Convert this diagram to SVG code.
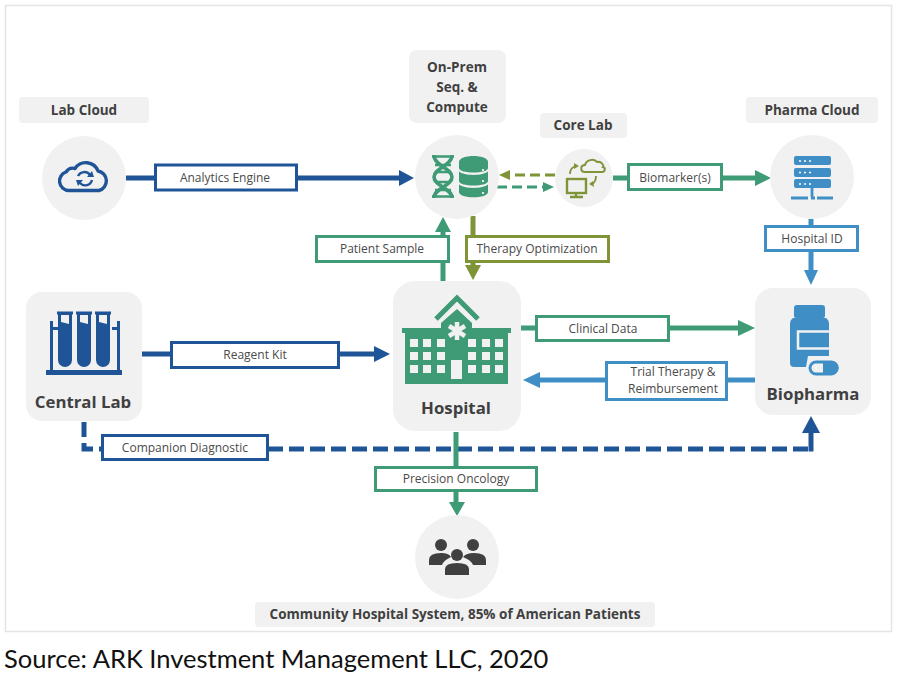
<svg xmlns="http://www.w3.org/2000/svg" width="900" height="677" viewBox="0 0 900 677">
<style>
.t{font-family:"Open Sans","Liberation Sans",sans-serif}
.h{font-weight:700;fill:#404040;text-anchor:middle;font-size:13.5px}
.big{font-size:16.8px}
.l{font-size:12px;fill:#4a4a4a;text-anchor:middle}
.pill,.disc,.card{fill:#f1f1f1}
.box{fill:#fff;stroke-width:3}
.navy{fill:#1f5597}.green{fill:#3f9a76}.olive{fill:#7f9437}.blue{fill:#3f8fc6}
.sn{stroke:#1f5597}.sg{stroke:#3f9a76}.so{stroke:#7f9437}.sb{stroke:#3f8fc6}
.w{stroke-width:5;fill:none}
.d{stroke-width:3;fill:none;stroke-dasharray:10 5}
</style>
<rect width="900" height="677" fill="#fff"/>
<rect x="5.5" y="5.5" width="886" height="626" fill="#fff" stroke="#e4e4e4" stroke-width="1.5"/>

<g id="connectors">
<path class="w sn" d="M126 178H400"/><path class="navy" d="M399 170L414 178L399 186Z"/>
<path class="w sn" d="M142 354H376"/><path class="navy" d="M374 346L390 354L374 362Z"/>
<path class="w sn" d="M84 422V449H104M268 449H808" stroke-dasharray="15 6"/>
<path class="w sn" d="M811 451.500V432"/><path class="navy" d="M802 433L811 416L820 433Z"/>
<path class="w sg" d="M443 281V230"/><path class="green" d="M435 232L443 217L451 232Z"/>
<path class="w so" d="M473 216V266"/><path class="olive" d="M465 265L473 280L481 265Z"/>
<path class="d so" d="M555 175H510"/><path class="olive" d="M510 170L499 175L510 180Z"/>
<path class="d sg" d="M497 187H545"/><path class="green" d="M543 182L554 187L543 192Z"/>
<path class="w sg" d="M613 178H756"/><path class="green" d="M755 170L771 178L755 186Z"/>
<path class="w sb" d="M811 219V272"/><path class="blue" d="M804 270L811 285L818 270Z"/>
<path class="w sg" d="M521 328H740"/><path class="green" d="M738 320L755 328L738 336Z"/>
<path class="w sb" d="M755 380H538"/><path class="blue" d="M540 372L523 380L540 388Z"/>
<path class="w sg" d="M456 432V503"/><path class="green" d="M449 502L457 516L465 502Z"/>
</g>

<g id="lab-cloud">
<rect class="pill" x="19" y="97" width="130" height="26" rx="4"/>
<text class="t h" x="84" y="115">Lab Cloud</text>
<circle class="disc" cx="84" cy="178" r="42"/>
<path d="M69 190.500A9.500 9.500 0 0 1 66 172A8 8 0 0 1 75 168.500A13 13 0 0 1 98 171A10 10 0 0 1 99 190.500Z" fill="none" stroke="#1f5597" stroke-width="3.400" stroke-linejoin="round"/>
<path d="M78 176A7 7 0 0 1 90 175M92 180A7 7 0 0 1 80 183" fill="none" stroke="#1f5597" stroke-width="2.400"/>
<path class="navy" d="M87 177L94 177L92 171ZM83 180L76 180L78 186Z"/>
</g>

<g id="on-prem">
<rect class="pill" x="409" y="50" width="97" height="73" rx="8"/>
<text class="t h" x="457" y="72">On-Prem</text>
<text class="t h" x="457" y="92">Seq. &amp;</text>
<text class="t h" x="457" y="112">Compute</text>
<circle class="disc" cx="457" cy="177" r="42"/>
<path d="M434 155C434 166 452 168 452 177S434 188 434 198M452 155C452 166 434 168 434 177S452 188 452 198" fill="none" stroke="#3f9a76" stroke-width="3.600"/>
<path d="M432 156.500H454M435 165H451M437 172H449M437 182H449M435 190H451M432 196.500H454" stroke="#3f9a76" stroke-width="2.400"/>
<path class="green" d="M459 162C459 154 488 154 488 162V168C488 174 459 174 459 168Z"/>
<path class="green" d="M459 171.500C464 176 483 176 488 171.500V181C488 187 459 187 459 181Z"/>
<path class="green" d="M459 184.500C464 189 483 189 488 184.500V192C488 199 459 199 459 192Z"/>
<circle cx="483" cy="170" r="1.100" fill="#fff"/><circle cx="483" cy="181" r="1.100" fill="#fff"/><circle cx="483" cy="193" r="1.100" fill="#fff"/>
</g>

<g id="core-lab">
<rect class="pill" x="540" y="113" width="87" height="25" rx="4"/>
<text class="t h" x="583" y="130">Core Lab</text>
<circle class="disc" cx="584" cy="178" r="29"/>
<path d="M585 172C580 172 580 165 585 165C586 160 594 158 597 162C602 161 604 166 603 167C606 168 605 172 602 172Z" fill="none" stroke="#7f9437" stroke-width="2"/>
<rect x="567" y="179" width="19" height="14" fill="none" stroke="#7f9437" stroke-width="2.400"/>
<path d="M576 193V197M570 197H583" stroke="#7f9437" stroke-width="2.400"/>
<path d="M570 174C570 170 572 167 576 166M596 176C596 180 594 183 592 184" fill="none" stroke="#7f9437" stroke-width="1.800"/>
<path class="olive" d="M574 163L579 166L574 169ZM593 181L589 184L594 187Z"/>
</g>

<g id="pharma-cloud">
<rect class="pill" x="746" y="97" width="132" height="26" rx="4"/>
<text class="t h" x="812" y="115">Pharma Cloud</text>
<circle class="disc" cx="812" cy="177" r="42"/>
<rect class="blue" x="794" y="156" width="37" height="9" rx="2"/>
<rect class="blue" x="794" y="168" width="37" height="9" rx="2"/>
<rect class="blue" x="794" y="179" width="37" height="9" rx="2"/>
<path d="M799 161h2m3 0h2m3 0h2M799 172.500h2m3 0h2m3 0h2M799 184h2m3 0h2m3 0h2" stroke="#fff" stroke-width="1.400"/>
<path d="M812 188V197M791 198H808M811 198H815M817 198H833" stroke="#3f8fc6" stroke-width="2.800"/>
</g>

<g id="central-lab">
<rect class="card" x="26" y="292" width="116" height="129" rx="16"/>
<path class="navy" d="M50 321H53V370H117V321H120V370H122V375H46V370H50ZM53 327H58V330H53ZM112 327H117V330H112Z"/>
<path d="M57 313H73M76 313H92M95 313H111" stroke="#1f5597" stroke-width="2.800"/>
<path class="navy" d="M58 313H72V360A7 7 0 0 1 58 360ZM77 313H91V360A7 7 0 0 1 77 360ZM96 313H110V360A7 7 0 0 1 96 360Z"/>
<path fill="#f1f1f1" d="M61 315H69V324L61 322ZM80 315H88V324L80 322ZM99 315H107V324L99 322Z"/>
<text class="t h big" x="83" y="408">Central Lab</text>
</g>

<g id="hospital">
<rect class="card" x="393" y="281" width="128" height="150" rx="22"/>
<path d="M436 319L457 298L478 319" fill="none" stroke="#3f9a76" stroke-width="5"/>
<path class="green" d="M441 328V323L457 309L472 323V328H511V333H508V384H405V333H402V328Z"/>
<path d="M457 322V340M449 326L465 336M465 326L449 336" stroke="#f1f1f1" stroke-width="4.500"/>
<g fill="#f1f1f1">
<rect x="410" y="339" width="8" height="8"/><rect x="423" y="339" width="8" height="8"/><rect x="437" y="339" width="8" height="8"/>
<rect x="410" y="352" width="8" height="8"/><rect x="423" y="352" width="8" height="8"/><rect x="437" y="352" width="8" height="8"/>
<rect x="410" y="365" width="8" height="8"/><rect x="423" y="365" width="8" height="8"/><rect x="437" y="365" width="8" height="8"/>
<rect x="468" y="339" width="8" height="8"/><rect x="482" y="339" width="8" height="8"/><rect x="495" y="339" width="8" height="8"/>
<rect x="468" y="352" width="8" height="8"/><rect x="482" y="352" width="8" height="8"/><rect x="495" y="352" width="8" height="8"/>
<rect x="468" y="365" width="8" height="8"/><rect x="482" y="365" width="8" height="8"/><rect x="495" y="365" width="8" height="8"/>
<rect x="451" y="360" width="11" height="19"/>
</g>
<text class="t h big" x="456" y="414">Hospital</text>
</g>

<g id="biopharma">
<rect class="card" x="755" y="288" width="116" height="127" rx="18"/>
<path class="blue" d="M797 305H822Q825 305 825 308V316Q825 318 823 318H826Q829 320 829 324V356H808L806 367H794Q790 367 790 363V324Q790 320 793 318H796Q794 318 794 316V308Q794 305 797 305Z"/>
<path d="M829 331.500H798V348.500H829" fill="#3f8fc6" stroke="#f1f1f1" stroke-width="2.500"/>
<rect x="808" y="360" width="31" height="15" rx="7.500" fill="#f1f1f1"/>
<rect x="810" y="362" width="27" height="12" rx="6" fill="#f1f1f1" stroke="#3f8fc6" stroke-width="3"/>
<path class="blue" d="M823 361H832A6.500 6.500 0 0 1 832 374.500H823Z"/>
<text class="t h big" x="813" y="400">Biopharma</text>
</g>

<g id="community">
<circle class="disc" cx="457" cy="557" r="42"/>
<g fill="#404040">
<circle cx="441" cy="545" r="6"/><circle cx="473" cy="545" r="6"/><circle cx="457" cy="555" r="6"/>
<path d="M429 565V560Q429 553 441 553Q449 553 451 557Q444 560 442 565ZM486 565V560Q486 553 474 553Q466 553 463 557Q471 560 473 565Z"/>
<path d="M445 575V569Q445 563 457 563Q469 563 469 569V575Z"/>
</g>
<rect class="pill" x="255" y="602" width="400" height="25" rx="4"/>
<text class="t h" x="455" y="619">Community Hospital System, 85% of American Patients</text>
</g>

<g id="labels">
<rect class="box sn" x="155.500" y="165" width="141" height="25"/><text class="t l" x="225" y="182">Analytics Engine</text>
<rect class="box sn" x="171.500" y="342.500" width="167" height="25"/><text class="t l" x="255" y="359">Reagent Kit</text>
<rect class="box sn" x="102.500" y="435.500" width="165" height="24"/><text class="t l" x="185" y="452">Companion Diagnostic</text>
<rect class="box sg" x="316.500" y="236.500" width="132" height="25"/><text class="t l" x="382" y="253">Patient Sample</text>
<rect class="box so" x="466.500" y="236.500" width="142" height="25"/><text class="t l" x="537" y="253">Therapy Optimization</text>
<rect class="box sg" x="628.500" y="164.500" width="93" height="25"/><text class="t l" x="675" y="182">Biomarker(s)</text>
<rect class="box sb" x="765.500" y="226.500" width="92" height="24"/><text class="t l" x="812" y="243">Hospital ID</text>
<rect class="box sg" x="536.500" y="316.500" width="132" height="24"/><text class="t l" x="603" y="333">Clinical Data</text>
<rect class="box sb" x="606.500" y="362.500" width="120" height="37"/><text class="t l" x="673" y="376">Trial Therapy &amp;</text><text class="t l" x="673" y="393">Reimbursement</text>
<rect class="box sg" x="375.500" y="467.500" width="161" height="23"/><text class="t l" x="456" y="483">Precision Oncology</text>
</g>

<text x="4" y="668" font-family="Lato,'Noto Sans',sans-serif" font-size="25.500" fill="#111">Source: ARK Investment Management LLC, 2020</text>
</svg>
